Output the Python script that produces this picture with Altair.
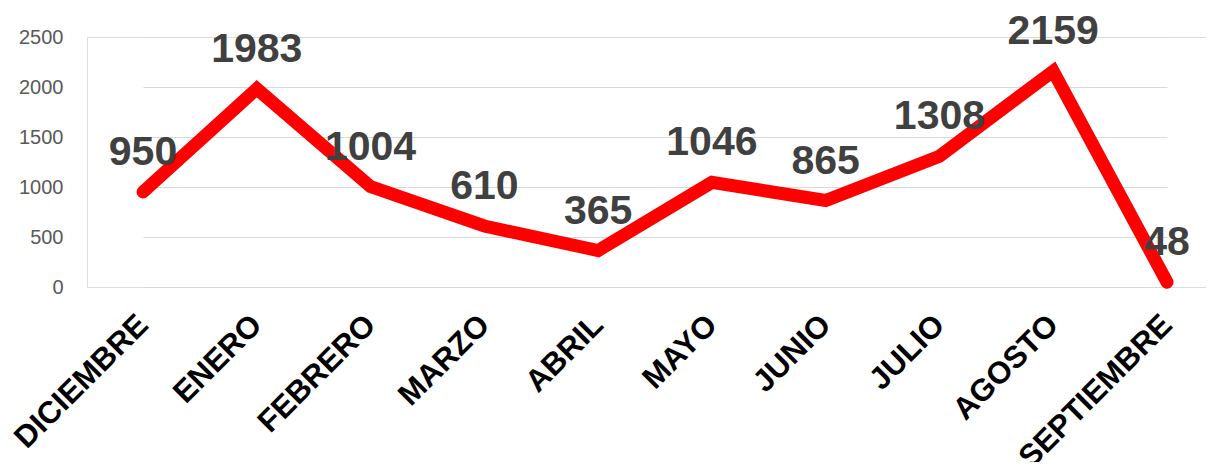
import altair as alt
import pandas as pd

months = ["DICIEMBRE", "ENERO", "FEBRERO", "MARZO", "ABRIL", "MAYO",
          "JUNIO", "JULIO", "AGOSTO", "SEPTIEMBRE"]
values = [950, 1983, 1004, 610, 365, 1046, 865, 1308, 2159, 48]
y_ticks = [0, 500, 1000, 1500, 2000, 2500]

df = pd.DataFrame({"mes": months, "valor": values})

W = 1119
H = 250

x = alt.X("mes:N", sort=months, title=None,
          scale=alt.Scale(type="point", range=[56, 1080], padding=0),
          axis=alt.Axis(labelAngle=-45, labelAlign="right", labelBaseline="middle",
                        labelFont="Liberation Sans", labelFontWeight="bold",
                        labelFontSize=31, labelColor="#000000", labelPadding=33,
                        labelLimit=400, ticks=False, domain=False, grid=False,
                        labelOverlap=False))
y = alt.Y("valor:Q", title=None,
          scale=alt.Scale(domain=[0, 2500], nice=False),
          axis=alt.Axis(values=y_ticks, format="d", labelFont="Liberation Sans",
                        labelFontSize=20, labelColor="#595959", labelPadding=24,
                        ticks=False, domain=False,
                        grid=True, gridColor="#d9d9d9", gridWidth=1.2))

base = alt.Chart(df)
line = base.mark_line(color="#ff0000", strokeWidth=13, strokeCap="round",
                      strokeJoin="miter").encode(x=x, y=y)
text = base.mark_text(font="Liberation Sans", fontWeight="bold", fontSize=41,
                      color="#404040", baseline="alphabetic", dy=-27).encode(
    x=alt.X("mes:N", sort=months), y="valor:Q", text="valor:Q")

chart = alt.layer(line, text).properties(
    width=W, height=H,
    autosize=alt.AutoSizeParams(type="none"),
    padding={"left": 79, "top": 29, "right": 0, "bottom": 175},
).configure_view(stroke=None).configure(background="white")

chart.save("out.html", embed_options={"renderer": "svg", "actions": False})
